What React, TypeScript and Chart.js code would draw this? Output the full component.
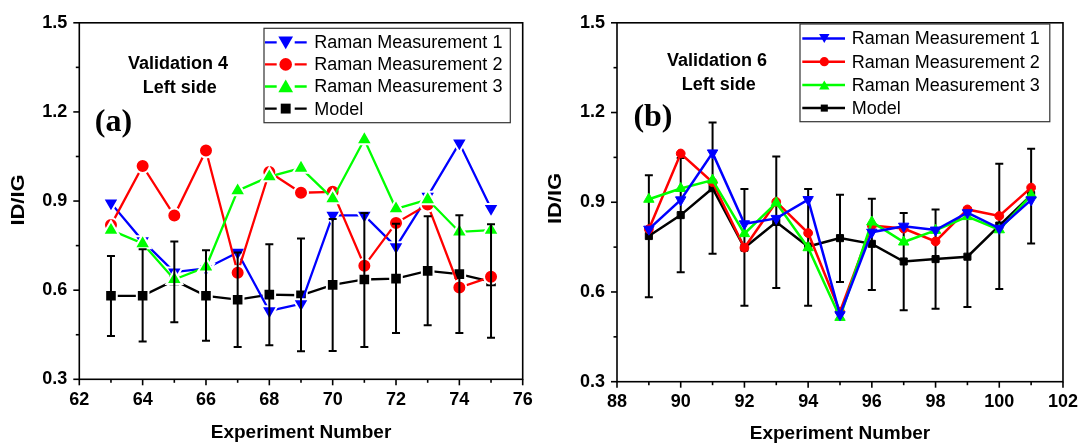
import React, { useEffect, useRef } from 'react';
import { Chart, registerables } from 'chart.js';
Chart.register(...registerables);

const SANS = '"Liberation Sans", Arial, Helvetica, sans-serif';
const SERIF = '"Liberation Serif", "Times New Roman", serif';

// ---------- Panel (a): Validation 4 ----------
const expA = [63, 64, 65, 66, 67, 68, 69, 70, 71, 72, 73, 74, 75];
const raman1A = [0.893, 0.766, 0.661, 0.673, 0.727, 0.530, 0.554, 0.852, 0.852, 0.746, 0.916, 1.095, 0.875];
const raman2A = [0.819, 1.018, 0.851, 1.070, 0.659, 0.998, 0.928, 0.931, 0.682, 0.826, 0.888, 0.609, 0.645];
const raman3A = [0.802, 0.757, 0.636, 0.678, 0.935, 0.982, 1.011, 0.908, 1.107, 0.874, 0.905, 0.796, 0.802];
const modelA = [0.581, 0.581, 0.633, 0.581, 0.568, 0.585, 0.583, 0.618, 0.636, 0.639, 0.665, 0.654, 0.629];
const modelHiA = [0.715, 0.738, 0.764, 0.734, 0.727, 0.755, 0.774, 0.840, 0.860, 0.824, 0.849, 0.852, 0.822];
const modelLoA = [0.446, 0.427, 0.492, 0.430, 0.409, 0.415, 0.394, 0.395, 0.409, 0.456, 0.482, 0.456, 0.440];

// ---------- Panel (b): Validation 6 ----------
const expB = [89, 90, 91, 92, 93, 94, 95, 96, 97, 98, 99, 100, 101];
const raman1B = [0.810, 0.908, 1.065, 0.828, 0.846, 0.909, 0.524, 0.800, 0.820, 0.807, 0.865, 0.813, 0.908];
const raman2B = [0.810, 1.063, 0.967, 0.748, 0.901, 0.797, 0.534, 0.822, 0.812, 0.769, 0.876, 0.854, 0.949];
const raman3B = [0.910, 0.946, 0.974, 0.795, 0.898, 0.748, 0.515, 0.834, 0.767, 0.806, 0.852, 0.808, 0.924];
const modelB = [0.787, 0.857, 0.947, 0.748, 0.834, 0.752, 0.780, 0.761, 0.702, 0.710, 0.718, 0.822, 0.924];
const modelHiB = [0.990, 1.048, 1.167, 0.944, 1.053, 0.944, 0.925, 0.912, 0.864, 0.876, 0.881, 1.029, 1.079];
const modelLoB = [0.582, 0.666, 0.728, 0.554, 0.613, 0.554, 0.633, 0.607, 0.539, 0.544, 0.550, 0.610, 0.762];

const seriesNames = ['Raman Measurement 1', 'Raman Measurement 2', 'Raman Measurement 3', 'Model'];
const seriesColors = ['#0000ff', '#ff0000', '#00ff00', '#000000'];
const seriesStyles = ['triangleDown', 'circle', 'triangle', 'rect'];

const yMajorTicks = [0.3, 0.6, 0.9, 1.2, 1.5];
const yMinorTicks = [0.45, 0.75, 1.05, 1.35];

function drawMarker(ctx: CanvasRenderingContext2D, style: string, x: number, y: number, r: number, color: string) {
  ctx.save();
  ctx.fillStyle = color;
  ctx.beginPath();
  if (style === 'circle') {
    ctx.arc(x, y, r, 0, Math.PI * 2);
  } else if (style === 'rect') {
    const s = r * Math.SQRT1_2;
    ctx.rect(x - s, y - s, 2 * s, 2 * s);
  } else {
    const dir = style === 'triangle' ? 1 : -1;
    const a0 = style === 'triangle' ? 0 : Math.PI;
    for (let k = 0; k < 3; k++) {
      const a = a0 + (k * 2 * Math.PI) / 3;
      const px = x + Math.sin(a) * r;
      const py = y - Math.cos(a) * r;
      if (k === 0) ctx.moveTo(px, py);
      else ctx.lineTo(px, py);
    }
    void dir;
    ctx.closePath();
  }
  ctx.fill();
  ctx.restore();
}

type Panel = {
  exps: number[];
  r1: number[];
  r2: number[];
  r3: number[];
  model: number[];
  hi: number[];
  lo: number[];
  xMin: number;
  xMax: number;
  width: number;
  pad: { top: number; right: number };
  yWidth: number;
  xHeight: number;
  gapStyle: boolean;
  lineWidth: number;
  radii: { tri: number; circ: number; rect: number };
  barsOnTop: boolean;
  legend: { left: number; top: number; right: number; bottom: number; rows: number[]; lineL: number; lineR: number; markX: number; textX: number; radii: number[] };
  texts: { t: string; x: number; y: number; font: string; align: CanvasTextAlign }[];
  yTitle: { x: number; y: number };
  order: number[]; // dataset index order (first = top)
  xTitlePad: number;
};

const panelA: Panel = {
  exps: expA, r1: raman1A, r2: raman2A, r3: raman3A, model: modelA, hi: modelHiA, lo: modelLoA,
  xMin: 62, xMax: 76, width: 545,
  pad: { top: 22.7, right: 22.3 }, yWidth: 79.3, xHeight: 65.7,
  gapStyle: true, lineWidth: 2.3,
  radii: { tri: 9.2, circ: 7, rect: 8.2 },
  barsOnTop: true,
  legend: { left: 264, top: 28.3, right: 510.3, bottom: 122.7, rows: [42.3, 64.4, 86.5, 108.6], lineL: 265, lineR: 306.7, markX: 285.7, textX: 314.3, radii: [8.5, 6.3, 8.5, 7] },
  texts: [
    { t: 'Validation 4', x: 178, y: 69.3, font: `bold 18px ${SANS}`, align: 'center' },
    { t: 'Left side', x: 179.7, y: 92.7, font: `bold 18px ${SANS}`, align: 'center' },
    { t: '(a)', x: 94.8, y: 130.5, font: `bold 32px ${SERIF}`, align: 'left' },
  ],
  yTitle: { x: 19.5, y: 200 },
  order: [2, 1, 0, 3],
  xTitlePad: 1,
};

const panelB: Panel = {
  exps: expB, r1: raman1B, r2: raman2B, r3: raman3B, model: modelB, hi: modelHiB, lo: modelLoB,
  xMin: 88, xMax: 102, width: 543,
  pad: { top: 17.3, right: 19.5 }, yWidth: 72, xHeight: 63.3,
  gapStyle: false, lineWidth: 2.5,
  radii: { tri: 6, circ: 4.4, rect: 5 },
  barsOnTop: false,
  legend: { left: 255, top: 24, right: 504.8, bottom: 121.7, rows: [38.5, 61.7, 84.9, 108.1], lineL: 257.3, lineR: 300, markX: 279.3, textX: 306.7, radii: [6, 4.6, 6, 5] },
  texts: [
    { t: 'Validation 6', x: 172.1, y: 66.3, font: `bold 18px ${SANS}`, align: 'center' },
    { t: 'Left side', x: 173.7, y: 90.3, font: `bold 18px ${SANS}`, align: 'center' },
    { t: '(b)', x: 88.4, y: 126, font: `bold 32px ${SERIF}`, align: 'left' },
  ],
  yTitle: { x: 11, y: 198.5 },
  order: [0, 2, 1, 3],
  xTitlePad: 0,
};

function buildConfig(p: Panel): any {
  const values = [p.r1, p.r2, p.r3, p.model];
  const makeDs = (i: number) => {
    const style = seriesStyles[i];
    const color = seriesColors[i];
    const r = style === 'circle' ? p.radii.circ : style === 'rect' ? p.radii.rect : p.radii.tri;
    return {
      label: seriesNames[i],
      data: p.exps.map((x, k) => ({ x, y: values[i][k] })),
      borderColor: color,
      backgroundColor: color,
      borderWidth: p.lineWidth,
      pointStyle: style === 'triangleDown' ? 'triangle' : style,
      pointRotation: style === 'triangleDown' ? 180 : 0,
      pointRadius: r,
      pointBackgroundColor: color,
      pointBorderColor: p.gapStyle ? '#ffffff' : color,
      pointBorderWidth: p.gapStyle ? 2 : 1,
      tension: 0,
      fill: false,
    };
  };

  const errorBars = {
    id: 'errorBars',
    draw(chart: any) {
      const { ctx, scales } = chart;
      const xs = scales.x, ys = scales.y;
      ctx.save();
      ctx.strokeStyle = '#000';
      ctx.lineWidth = 2;
      p.exps.forEach((x, k) => {
        const px = xs.getPixelForValue(x);
        const pt = ys.getPixelForValue(p.hi[k]);
        const pb = ys.getPixelForValue(p.lo[k]);
        ctx.beginPath();
        ctx.moveTo(px, pt); ctx.lineTo(px, pb);
        ctx.moveTo(px - 4, pt); ctx.lineTo(px + 4, pt);
        ctx.moveTo(px - 4, pb); ctx.lineTo(px + 4, pb);
        ctx.stroke();
      });
      ctx.restore();
    },
    beforeDatasetsDraw(chart: any) { if (!p.barsOnTop) (this as any).draw(chart); },
    afterDatasetsDraw(chart: any) { if (p.barsOnTop) (this as any).draw(chart); },
  };

  const decor = {
    id: 'decor',
    afterDraw(chart: any) {
      const { ctx, chartArea: ca, scales } = chart;
      const xs = scales.x, ys = scales.y;
      ctx.save();
      // frame
      ctx.strokeStyle = '#000';
      ctx.lineWidth = 1.6;
      ctx.strokeRect(ca.left, ca.top, ca.right - ca.left, ca.bottom - ca.top);
      // x ticks
      for (let v = p.xMin; v <= p.xMax; v += 1) {
        const px = xs.getPixelForValue(v);
        const major = v % 2 === 0;
        ctx.beginPath();
        ctx.moveTo(px, ca.bottom);
        ctx.lineTo(px, ca.bottom + (major ? 6 : 3.5));
        ctx.stroke();
      }
      // y ticks
      yMajorTicks.forEach((v) => {
        const py = ys.getPixelForValue(v);
        ctx.beginPath(); ctx.moveTo(ca.left, py); ctx.lineTo(ca.left - 6, py); ctx.stroke();
      });
      yMinorTicks.forEach((v) => {
        const py = ys.getPixelForValue(v);
        ctx.beginPath(); ctx.moveTo(ca.left, py); ctx.lineTo(ca.left - 3.5, py); ctx.stroke();
      });

      // legend
      const L = p.legend;
      ctx.fillStyle = '#fff';
      ctx.fillRect(L.left, L.top, L.right - L.left, L.bottom - L.top);
      ctx.strokeStyle = '#333';
      ctx.lineWidth = 1.2;
      ctx.strokeRect(L.left, L.top, L.right - L.left, L.bottom - L.top);
      seriesNames.forEach((name, i) => {
        const y = L.rows[i];
        const color = seriesColors[i];
        ctx.strokeStyle = color;
        ctx.lineWidth = p.lineWidth;
        ctx.beginPath();
        if (p.gapStyle) {
          ctx.moveTo(L.lineL, y); ctx.lineTo(L.markX - 9, y);
          ctx.moveTo(L.markX + 9, y); ctx.lineTo(L.lineR, y);
        } else {
          ctx.moveTo(L.lineL, y); ctx.lineTo(L.lineR, y);
        }
        ctx.stroke();
        const st = seriesStyles[i];
        const dy = st === 'triangle' ? 1.5 : st === 'triangleDown' ? -1.5 : 0;
        drawMarker(ctx, st, L.markX, y + dy, L.radii[i], color);
        ctx.fillStyle = '#000';
        ctx.font = `18px ${SANS}`;
        ctx.textAlign = 'left';
        ctx.textBaseline = 'middle';
        ctx.fillText(name, L.textX, y + 1);
      });

      // annotations
      p.texts.forEach((t) => {
        ctx.fillStyle = '#000';
        ctx.font = t.font;
        ctx.textAlign = t.align;
        ctx.textBaseline = 'alphabetic';
        ctx.fillText(t.t, t.x, t.y);
      });

      // y title
      ctx.save();
      ctx.translate(p.yTitle.x, p.yTitle.y);
      ctx.rotate(-Math.PI / 2);
      ctx.scale(1.22, 1);
      ctx.fillStyle = '#000';
      ctx.font = `bold 18px ${SANS}`;
      ctx.textAlign = 'center';
      ctx.textBaseline = 'middle';
      ctx.fillText('ID/IG', 0, 0);
      ctx.restore();
      ctx.restore();
    },
  };

  return {
    type: 'line',
    data: { datasets: p.order.map(makeDs) },
    options: {
      animation: false,
      responsive: false,
      devicePixelRatio: 1,
      events: [],
      layout: { padding: { left: 0, right: p.pad.right, top: p.pad.top, bottom: 0 } },
      plugins: { legend: { display: false }, tooltip: { enabled: false }, title: { display: false } },
      scales: {
        x: {
          type: 'linear',
          min: p.xMin,
          max: p.xMax,
          grid: { display: false, drawTicks: false },
          border: { display: false },
          ticks: {
            stepSize: 2,
            autoSkip: false,
            maxRotation: 0,
            padding: 10,
            color: '#000',
            font: { family: SANS, size: 18, weight: 'bold' },
            callback: (v: any) => String(v),
          },
          title: {
            display: true,
            text: 'Experiment Number',
            color: '#000',
            font: { family: SANS, size: 19, weight: 'bold' },
            padding: { top: 0, bottom: p.xTitlePad },
          },
          afterFit: (s: any) => { s.height = p.xHeight; },
        },
        y: {
          type: 'linear',
          min: 0.3,
          max: 1.5,
          grid: { display: false, drawTicks: false },
          border: { display: false },
          ticks: {
            stepSize: 0.3,
            padding: 12,
            color: '#000',
            font: { family: SANS, size: 18, weight: 'bold' },
            callback: (v: any) => Number(v).toFixed(1),
          },
          afterFit: (s: any) => { s.width = p.yWidth; },
        },
      },
    },
    plugins: [errorBars, decor],
  };
}

export default function App() {
  const refA = useRef<HTMLCanvasElement>(null);
  const refB = useRef<HTMLCanvasElement>(null);
  useEffect(() => {
    const ca = new Chart(refA.current as HTMLCanvasElement, buildConfig(panelA));
    const cb = new Chart(refB.current as HTMLCanvasElement, buildConfig(panelB));
    return () => { ca.destroy(); cb.destroy(); };
  }, []);
  return (
    <div style={{ position: 'fixed', left: 0, top: 0, width: 1088, height: 445, background: '#fff' }}>
      <canvas ref={refA} width={545} height={445} style={{ position: 'absolute', left: 0, top: 0, width: 545, height: 445 }} />
      <canvas ref={refB} width={543} height={445} style={{ position: 'absolute', left: 545, top: 0, width: 543, height: 445 }} />
    </div>
  );
}
